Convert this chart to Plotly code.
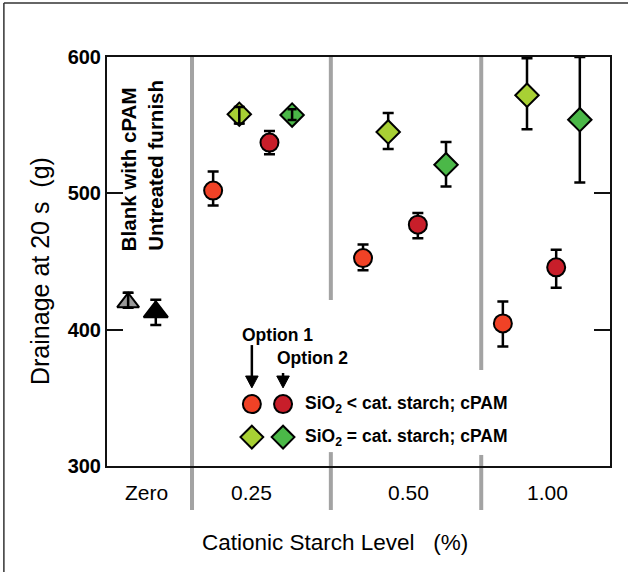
import plotly.graph_objects as go

# ---------------- data ----------------
group_labels = ["Zero", "0.25", "0.50", "1.00"]
group_label_x = [0.78, 2.88, 6.0, 8.75]
separator_x = [1.69, 4.45, 7.44]

# Zero starch references
blank_x = [0.42]
blank_y = [420]
blank_plus = [7]
blank_minus = [4]

untreated_x = [0.97]
untreated_y = [413]
untreated_plus = [9]
untreated_minus = [9.5]

# SiO2 < cat. starch; cPAM
lt_opt1_x = [2.11, 5.09, 7.87]
lt_opt1_y = [502, 452.5, 404.6]
lt_opt1_plus = [14, 10, 16]
lt_opt1_minus = [11, 9, 17]

lt_opt2_x = [3.23, 6.18, 8.93]
lt_opt2_y = [537.2, 477, 445.7]
lt_opt2_plus = [8.5, 8.6, 13]
lt_opt2_minus = [8.6, 10, 15]

# SiO2 = cat. starch; cPAM
eq_opt1_x = [2.63, 5.59, 8.35]
eq_opt1_y = [558, 545, 572]
eq_opt1_plus = [5.3, 14, 27]
eq_opt1_minus = [6.8, 12.5, 25]

eq_opt2_x = [3.68, 6.74, 9.40]
eq_opt2_y = [557.4, 521, 554]
eq_opt2_plus = [4.2, 16.6, 46]
eq_opt2_minus = [3.6, 16, 46]

ORANGE = "#F04226"
DARKRED = "#C81E2A"
LGREEN = "#A8D034"
GREEN = "#4BB848"
FONT = "Liberation Sans, Arial, sans-serif"
NARROW = "Liberation Sans Narrow, Arial Narrow, Liberation Sans, Arial, sans-serif"

fig = go.Figure()


def err(plus, minus, w=5.5):
    return dict(type="data", symmetric=False, array=plus, arrayminus=minus,
                color="black", thickness=2.5, width=w)


def add_series(x, y, plus, minus, symbol, size, color, line_w=2):
    fig.add_trace(go.Scatter(
        x=x, y=y, mode="markers", showlegend=False,
        error_y=err(plus, minus),
        marker=dict(symbol=symbol, size=size, color=color,
                    line=dict(color="black", width=line_w))))


add_series(blank_x, blank_y, blank_plus, blank_minus, "triangle-up", 19, "#9a9a9a")
add_series(untreated_x, untreated_y, untreated_plus, untreated_minus, "triangle-up", 21, "black")
add_series(lt_opt1_x, lt_opt1_y, lt_opt1_plus, lt_opt1_minus, "circle", 18, ORANGE)
add_series(lt_opt2_x, lt_opt2_y, lt_opt2_plus, lt_opt2_minus, "circle", 18, DARKRED)
add_series(eq_opt1_x, eq_opt1_y, eq_opt1_plus, eq_opt1_minus, "diamond", 18, LGREEN)
add_series(eq_opt2_x, eq_opt2_y, eq_opt2_plus, eq_opt2_minus, "diamond", 18, GREEN)

# small error bars drawn over their markers (as in the original)
fig.add_trace(go.Scatter(
    x=blank_x + eq_opt1_x[:1] + eq_opt2_x[:1],
    y=blank_y + eq_opt1_y[:1] + eq_opt2_y[:1],
    mode="markers", showlegend=False, hoverinfo="skip",
    marker=dict(size=1, color="rgba(0,0,0,0)"),
    error_y=err(blank_plus + eq_opt1_plus[:1] + eq_opt2_plus[:1],
                blank_minus + eq_opt1_minus[:1] + eq_opt2_minus[:1], w=4.5)))

# legend keys drawn inside the plot
key_x = [2.88, 3.50]
key_y_circle = 345.4
key_y_diamond = 321.2
fig.add_trace(go.Scatter(
    x=key_x, y=[key_y_circle] * 2, mode="markers", showlegend=False, hoverinfo="skip",
    marker=dict(symbol="circle", size=18, color=[ORANGE, DARKRED],
                line=dict(color="black", width=2))))
fig.add_trace(go.Scatter(
    x=key_x, y=[key_y_diamond] * 2, mode="markers", showlegend=False, hoverinfo="skip",
    marker=dict(symbol="diamond", size=17.5, color=[LGREEN, GREEN],
                line=dict(color="black", width=2))))

annotations = []
# category labels
for gx, gl in zip(group_label_x, group_labels):
    annotations.append(dict(x=gx, y=-0.064, xref="x", yref="paper", text=gl,
                            showarrow=False, font=dict(family=FONT, size=21, color="black"),
                            xanchor="center", yanchor="middle"))
# axis titles
annotations.append(dict(x=0.453, y=-0.186, xref="paper", yref="paper",
                        xanchor="center", yanchor="middle",
                        text="Cationic Starch Level&nbsp;&nbsp;&nbsp;(%)", showarrow=False,
                        font=dict(family=FONT, size=22.5, color="black")))
annotations.append(dict(x=-0.133, y=0.477, xref="paper", yref="paper",
                        xanchor="center", yanchor="middle",
                        text="Drainage at 20 s&nbsp;&nbsp;(g)", showarrow=False, textangle=-90,
                        font=dict(family=FONT, size=25, color="black")))
# rotated labels for zero group
annotations.append(dict(x=0.42, y=456.2, xref="x", yref="y", text="Blank with cPAM",
                        showarrow=False, textangle=-90, yanchor="bottom", xanchor="center",
                        font=dict(family=FONT, size=20.5, color="black", weight="bold")))
annotations.append(dict(x=0.96, y=456.2, xref="x", yref="y", text="Untreated furnish",
                        showarrow=False, textangle=-90, yanchor="bottom", xanchor="center",
                        font=dict(family=FONT, size=20.5, color="black", weight="bold")))
# option labels
annotations.append(dict(x=3.38, y=396, xref="x", yref="y", text="Option 1", showarrow=False,
                        xanchor="center", yanchor="middle",
                        font=dict(family=FONT, size=17.5, color="black", weight="bold")))
annotations.append(dict(x=4.08, y=379.2, xref="x", yref="y", text="Option 2", showarrow=False,
                        xanchor="center", yanchor="middle",
                        font=dict(family=FONT, size=17.5, color="black", weight="bold")))
# legend texts
annotations.append(dict(x=3.90, y=key_y_circle, xref="x", yref="y", xanchor="left",
                        yanchor="middle",
                        text="SiO<sub>2</sub> &lt; cat. starch; cPAM", showarrow=False,
                        font=dict(family=FONT, size=17.5, color="black", weight="bold")))
annotations.append(dict(x=3.90, y=key_y_diamond, xref="x", yref="y", xanchor="left",
                        yanchor="middle",
                        text="SiO<sub>2</sub> = cat. starch; cPAM", showarrow=False,
                        font=dict(family=FONT, size=17.5, color="black", weight="bold")))

shapes = []
SEP = dict(color="#a3a3a3", width=4)
# separator segments (paper y)
sep_segments = [
    (separator_x[0], [(-0.1076, 1.0)]),
    (separator_x[1], [(0.406, 1.0), (-0.1076, 0.034)]),
    (separator_x[2], [(0.235, 1.0), (-0.1076, 0.027)]),
]
for sx, segs in sep_segments:
    for y0, y1 in segs:
        shapes.append(dict(type="line", xref="x", yref="paper", x0=sx, x1=sx,
                           y0=y0, y1=y1, line=SEP, layer="below"))

# option arrows (shaft + head)
for ax_, top in [(key_x[0], 388.7), (key_x[1], 368.2)]:
    shapes.append(dict(type="line", xref="x", yref="y", x0=ax_, x1=ax_, y0=top, y1=364,
                       line=dict(color="black", width=2.5)))
    shapes.append(dict(type="path", xref="x", yref="y",
                       path=f"M {ax_ - 0.125},366 L {ax_ + 0.125},366 L {ax_},357.3 Z",
                       fillcolor="black", line=dict(color="black", width=1)))

# outer frame (top and left)
shapes.append(dict(type="line", xref="paper", yref="paper", x0=-0.205, x1=1.04,
                   y0=1.132, y1=1.132, line=dict(color="#333", width=1.5)))
shapes.append(dict(type="line", xref="paper", yref="paper", x0=-0.205, x1=-0.205,
                   y0=1.132, y1=-0.26, line=dict(color="#333", width=1.5)))

fig.update_layout(
    width=628, height=572,
    margin=dict(l=107, r=18, t=57, b=106),
    paper_bgcolor="white", plot_bgcolor="white",
    annotations=annotations, shapes=shapes,
    xaxis=dict(range=[0, 10], showgrid=False, zeroline=False, showticklabels=False,
               ticks="", showline=True, linecolor="#111", linewidth=2, mirror=True),
    yaxis=dict(range=[300, 600], tickvals=[300, 400, 500, 600], showgrid=False,
               zeroline=False, ticks="inside", ticklen=16, tickwidth=2, tickcolor="#111",
               showline=True, linecolor="#111", linewidth=2, mirror="ticks",
               tickfont=dict(family=NARROW, size=20, color="black", weight="bold")),
)

fig.write_html("out.html")
